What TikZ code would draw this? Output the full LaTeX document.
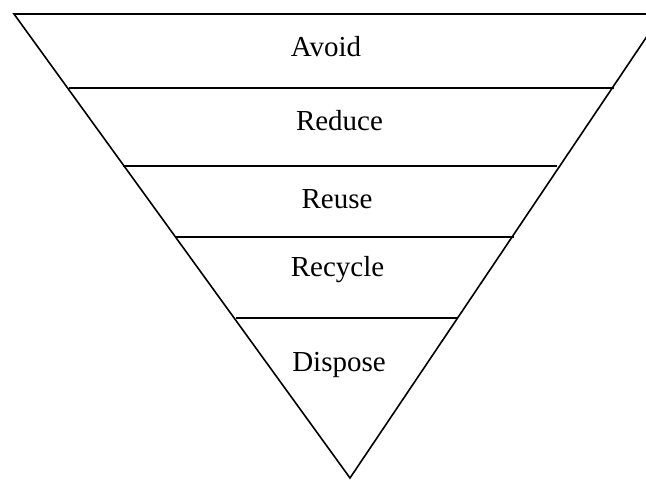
\documentclass[tikz,border=0pt]{standalone}
\usepackage{fontspec}
\setmainfont{Liberation Serif}
\begin{document}
\begin{tikzpicture}[x=1pt,y=-1pt,
  edge/.style={line width=1.6pt,line cap=butt},
  label/.style={anchor=base,inner sep=0pt,font=\fontsize{29}{34}\selectfont}]
\useasboundingbox (0,0) rectangle (646,480);
\clip (0,0) rectangle (646,480);
\coordinate (tl) at (14,14);
\coordinate (tr) at (662,14);
\coordinate (apex) at (350,478);
\draw[edge,line join=miter] (tr) -- (tl) -- (apex) -- (tr);
\draw[edge] (69,88) -- (614,88);
\draw[edge] (123,166) -- (557,166);
\draw[edge] (175,237) -- (514,237);
\draw[edge] (236,318) -- (457,318);
\node[label] (avoid) at (326,56) {Avoid};
\node[label] (reduce) at (339.5,130) {Reduce};
\node[label] (reuse) at (337,208) {Reuse};
\node[label] (recycle) at (337.5,276) {Recycle};
\node[label] (dispose) at (339,371.5) {Dispose};
\end{tikzpicture}
\end{document}
